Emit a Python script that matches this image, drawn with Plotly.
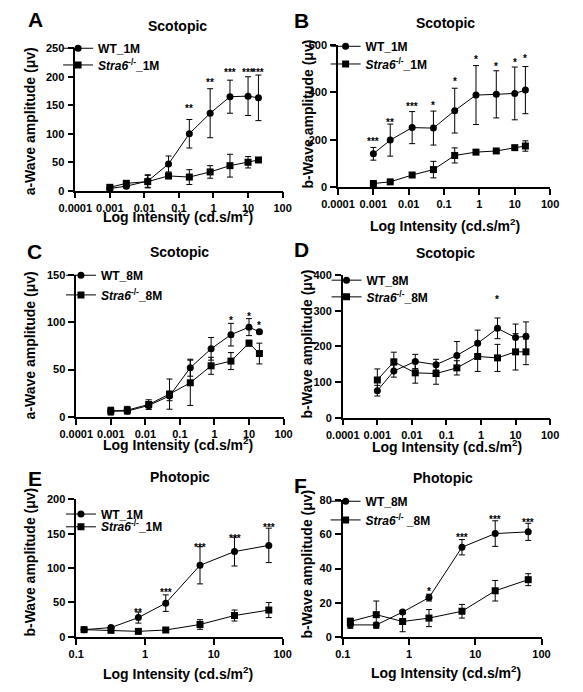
import math
import plotly.graph_objects as go

W, H = 583, 692

# ---------------- data ----------------
x_scot = [0.001, 0.003, 0.0125, 0.05, 0.2, 0.8, 3, 10, 20]
x_phot = [0.13, 0.32, 0.8, 2, 6.3, 20, 63]

scot_ticks = [0.0001, 0.001, 0.01, 0.1, 1, 10, 100]
scot_ticktext = ["0.0001", "0.001", "0.01", "0.1", "1", "10", "100"]
phot_ticks = [0.1, 1, 10, 100]
phot_ticktext = ["0.1", "1", "10", "100"]

# Panel A  (scotopic a-wave, 1M)
wt_A = [4, 8, 17, 47, 100, 136, 165, 166, 163]
wt_A_err = [3, 3, 11, 14, 25, 43, 29, 34, 40]
ko_A = [6, 13, 16, 26, 24, 33, 44, 50, 54]
ko_A_err = [3, 5, 11, 5, 13, 11, 20, 10, 3]
star_A_idx = [4, 5, 6, 7, 8]
star_A_txt = ["**", "**", "***", "***", "***"]
star_A_y = [149, 195, 212, 212, 212]

# Panel B  (scotopic b-wave, 1M)
wt_B = [140, 198, 251, 249, 323, 389, 392, 396, 410]
wt_B_err = [27, 68, 68, 72, 95, 125, 100, 112, 100]
ko_B = [14, 21, 50, 73, 133, 147, 152, 166, 173]
ko_B_err = [5, 5, 10, 35, 32, 5, 5, 5, 22]
star_B_idx = [0, 1, 2, 3, 4, 5, 6, 7, 8]
star_B_txt = ["***", "**", "***", "*", "*", "*", "*", "*", "*"]
star_B_y = [205, 284, 355, 357, 458, 554, 523, 541, 558]

# Panel C  (scotopic a-wave, 8M)
wt_C = [6, 6, 12, 22, 52, 72, 87, 95, 90]
wt_C_err = [4, 3, 4, 5, 9, 12, 12, 9, 2]
ko_C = [6, 7, 13, 24, 36, 54, 59, 78, 67]
ko_C_err = [4, 4, 5, 16, 24, 9, 9, 3, 11]
star_C_idx = [6, 7, 8]
star_C_txt = ["*", "*", "*"]
star_C_y = [105, 109, 100]

# Panel D  (scotopic b-wave, 8M)
wt_D = [76, 131, 158, 149, 175, 209, 251, 225, 229]
wt_D_err = [15, 17, 20, 15, 39, 37, 29, 38, 40]
ko_D = [106, 157, 126, 124, 140, 172, 168, 185, 185]
ko_D_err = [31, 27, 29, 30, 20, 42, 38, 51, 36]
star_D_idx = [6]
star_D_txt = ["*"]
star_D_y = [340]

# Panel E  (photopic b-wave, 1M)
wt_E = [10.5, 13.5, 28, 49, 104, 124, 133]
wt_E_err = [3, 2, 8, 12, 27, 21, 25]
ko_E = [10.5, 9.5, 8, 10, 18, 31, 39]
ko_E_err = [2, 2, 1, 1, 7, 8, 11]
star_E_idx = [2, 3, 4, 5, 6]
star_E_txt = ["**", "***", "***", "***", "***"]
star_E_y = [40, 69, 135, 148, 163]

# Panel F  (photopic b-wave, 8M)
wt_F = [7, 7, 14.5, 23, 52.5, 60.5, 61.5]
wt_F_err = [2, 1.5, 1, 2, 4.5, 7.5, 5]
ko_F = [9, 13, 9, 11, 15, 27, 33.5]
ko_F_err = [2, 8, 6, 5, 4, 6, 3.5]
star_F_idx = [3, 4, 5, 6]
star_F_txt = ["*", "***", "***", "***"]
star_F_y = [28.5, 59.7, 70.3, 69]

FONT = "Liberation Sans, Arial, sans-serif"

panels = [
    dict(letter="A", title="Scotopic", ytitle="a-Wave amplitude (μv)",
         x=x_scot, wt=wt_A, wte=wt_A_err, ko=ko_A, koe=ko_A_err,
         wtname="WT_1M", koname="<i>Stra6</i><sup>-/-</sup>_1M",
         sidx=star_A_idx, stxt=star_A_txt, sy=star_A_y,
         ticks=scot_ticks, ticktext=scot_ticktext, xr=[-4, 2],
         yr=[0, 250], ytv=[0, 50, 100, 150, 200, 250],
         box=(61, 278, 43, 188), letpos=(19, 14), titpos=(168, 20),
         ytpos=(14, 117), xtpos=(168, 214), leg=(92, 47, 64)),
    dict(letter="B", title="Scotopic", ytitle="b-Wave amplitude (μv)",
         x=x_scot, wt=wt_B, wte=wt_B_err, ko=ko_B, koe=ko_B_err,
         wtname="WT_1M", koname="<i>Stra6</i><sup>-/-</sup>_1M",
         sidx=star_B_idx, stxt=star_B_txt, sy=star_B_y,
         ticks=scot_ticks, ticktext=scot_ticktext, xr=[-4, 2],
         yr=[0, 600], ytv=[0, 200, 400, 600],
         box=(336, 558, 40, 184), letpos=(298, 15), titpos=(448, 17),
         ytpos=(305, 110), xtpos=(448, 223), leg=(372, 45, 63)),
    dict(letter="C", title="Scotopic", ytitle="a-Wave amplitude (μv)",
         x=x_scot, wt=wt_C, wte=wt_C_err, ko=ko_C, koe=ko_C_err,
         wtname="WT_8M", koname="<i>Stra6</i><sup>-/-</sup>_8M",
         sidx=star_C_idx, stxt=star_C_txt, sy=star_C_y,
         ticks=scot_ticks, ticktext=scot_ticktext, xr=[-4, 2],
         yr=[0, 150], ytv=[0, 50, 100, 150],
         box=(62, 279, 274, 418), letpos=(18, 250), titpos=(170, 250),
         ytpos=(14, 345), xtpos=(169, 446), leg=(95, 278, 298)),
    dict(letter="D", title="Scotopic", ytitle="b-Wave amplitude (μv)",
         x=x_scot, wt=wt_D, wte=wt_D_err, ko=ko_D, koe=ko_D_err,
         wtname="WT_8M", koname="<i>Stra6</i><sup>-/-</sup>_8M",
         sidx=star_D_idx, stxt=star_D_txt, sy=star_D_y,
         ticks=scot_ticks, ticktext=scot_ticktext, xr=[-4, 2],
         yr=[0, 400], ytv=[0, 100, 200, 300, 400],
         box=(341, 558, 274, 419), letpos=(298, 248), titpos=(449, 251),
         ytpos=(304, 344), xtpos=(450, 448), leg=(373, 283, 300)),
    dict(letter="E", title="Photopic", ytitle="b-Wave amplitude (μv)",
         x=x_phot, wt=wt_E, wte=wt_E_err, ko=ko_E, koe=ko_E_err,
         wtname="WT_1M", koname="<i>Stra6</i><sup>-/-</sup>_1M",
         sidx=star_E_idx, stxt=star_E_txt, sy=star_E_y,
         ticks=phot_ticks, ticktext=phot_ticktext, xr=[-1, 2],
         yr=[0, 200], ytv=[0, 50, 100, 150, 200],
         box=(62, 278, 502, 642), letpos=(19, 481), titpos=(171, 479),
         ytpos=(14, 566), xtpos=(168, 679), leg=(95, 521, 534)),
    dict(letter="F", title="Photopic", ytitle="b-Wave amplitude (μv)",
         x=x_phot, wt=wt_F, wte=wt_F_err, ko=ko_F, koe=ko_F_err,
         wtname="WT_8M", koname="<i>Stra6</i><sup>-/-</sup> _8M",
         sidx=star_F_idx, stxt=star_F_txt, sy=star_F_y,
         ticks=phot_ticks, ticktext=phot_ticktext, xr=[-1, 2],
         yr=[0, 80], ytv=[0, 20, 40, 60, 80],
         box=(341, 549, 503, 642), letpos=(297, 488), titpos=(446, 480),
         ytpos=(304, 568), xtpos=(449, 678), leg=(372, 508, 527)),
]


def px(x):
    return x / W


def py(y):
    return 1 - y / H


fig = go.Figure()
annotations = []
layout = dict(
    width=W, height=H, margin=dict(l=0, r=0, t=0, b=0),
    paper_bgcolor="white", plot_bgcolor="white", showlegend=True,
    font=dict(family=FONT, color="black", size=11, weight="bold"),
)

legn = 0
for i, p in enumerate(panels):
    n = "" if i == 0 else str(i + 1)
    xa, ya = "x" + n, "y" + n
    l, r, t, b = p["box"]
    common_axis = dict(
        showgrid=False, zeroline=False, showline=True, linecolor="black",
        linewidth=1.5, ticks="outside", ticklen=6, tickwidth=1.5,
        tickcolor="black", tickfont=dict(family=FONT, size=11, weight="bold", color="black"),
    )
    layout["xaxis" + n] = dict(
        common_axis, type="log", range=p["xr"], tickmode="array",
        tickvals=p["ticks"], ticktext=p["ticktext"],
        domain=[px(l), px(r)], anchor=ya,
    )
    layout["yaxis" + n] = dict(
        common_axis, range=p["yr"], tickmode="array", tickvals=p["ytv"],
        domain=[py(b), py(t)], anchor=xa, ticklabelstandoff=1,
    )
    series = [
        (p["wt"], p["wte"], p["wtname"], "circle", p["leg"][1]),
        (p["ko"], p["koe"], p["koname"], "square", p["leg"][2]),
    ]
    for yv, ev, name, sym, ly in series:
        legn += 1
        lname = "legend" if legn == 1 else "legend" + str(legn)
        fig.add_trace(go.Scatter(
            x=p["x"], y=yv, name=name, mode="lines+markers",
            xaxis=xa, yaxis=ya, legend=lname, cliponaxis=False,
            line=dict(color="black", width=1),
            marker=dict(symbol=sym, size=7, color="black"),
            error_y=dict(type="data", array=ev, visible=True,
                         color="black", thickness=1, width=3),
        ))
        layout[lname] = dict(
            x=px(p["leg"][0] - 49), y=py(ly - 4), xanchor="left", yanchor="middle",
            bgcolor="rgba(0,0,0,0)", borderwidth=0, itemwidth=30,
            font=dict(family=FONT, size=12, weight="bold", color="black"),
            itemclick=False, itemdoubleclick=False,
        )
    # significance stars
    for idx, txt, sy in zip(p["sidx"], p["stxt"], p["sy"]):
        annotations.append(dict(
            x=math.log10(p["x"][idx]), y=sy, xref=xa, yref=ya, text=txt,
            showarrow=False, xanchor="center", yanchor="middle", yshift=-3,
            font=dict(family=FONT, size=10, weight="bold", color="black"),
        ))
    # panel letter
    annotations.append(dict(
        x=px(p["letpos"][0]), y=py(p["letpos"][1]), xref="paper", yref="paper",
        text=p["letter"], showarrow=False, xanchor="center", yanchor="middle",
        font=dict(family=FONT, size=21, weight="bold", color="black"),
    ))
    # panel title
    annotations.append(dict(
        x=px(p["titpos"][0]), y=py(p["titpos"][1]), xref="paper", yref="paper",
        text=p["title"], showarrow=False, xanchor="center", yanchor="middle",
        font=dict(family=FONT, size=14, weight="bold", color="black"),
    ))
    # y-axis title
    annotations.append(dict(
        x=px(p["ytpos"][0]), y=py(p["ytpos"][1]), xref="paper", yref="paper",
        text=p["ytitle"], showarrow=False, xanchor="center", yanchor="middle",
        textangle=-90,
        font=dict(family=FONT, size=14, weight="bold", color="black"),
    ))
    # x-axis title
    annotations.append(dict(
        x=px(p["xtpos"][0]), y=py(p["xtpos"][1]), xref="paper", yref="paper",
        text="Log Intensity (cd.s/m<sup>2</sup>)", showarrow=False,
        xanchor="center", yanchor="middle",
        font=dict(family=FONT, size=14, weight="bold", color="black"),
    ))

layout["annotations"] = annotations
fig.update_layout(**layout)
fig.write_html("out.html", config={"displayModeBar": False},
               post_script="document.body.style.margin='0px';")
